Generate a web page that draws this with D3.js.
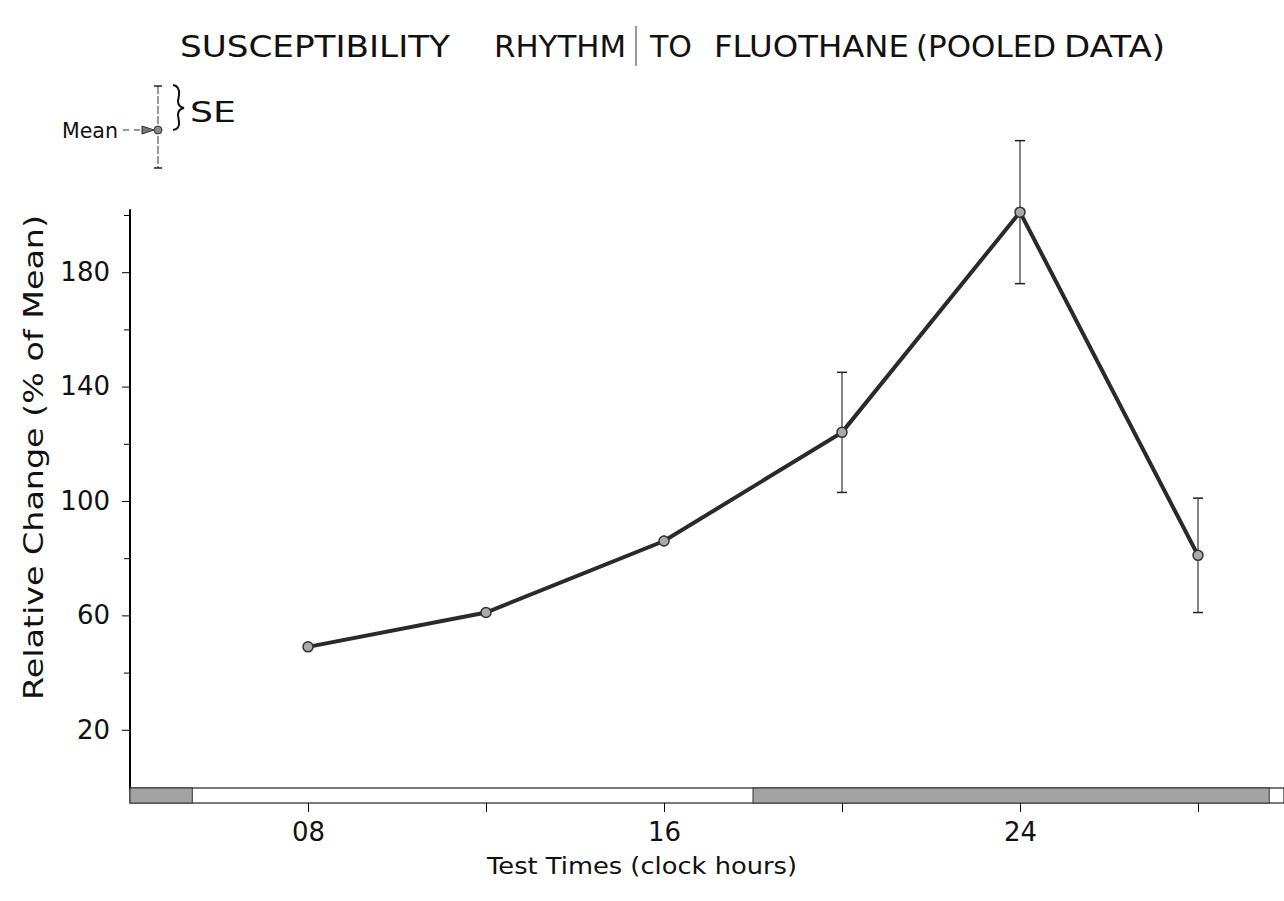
<!DOCTYPE html>
<html>
<head>
<meta charset="utf-8">
<script src="https://cdn.jsdelivr.net/npm/d3@7"></script>
<style>
	body { margin: 0; background: #fff; }
	svg text { font-family: "DejaVu Sans", sans-serif; fill: #111; }
</style>
</head>
<body>
<figure id="chart" style="margin:0"></figure>
<script>
// data
const hours = [8, 12, 16, 20, 24, 28];
const means = [49, 61, 86, 124, 201, 81];
const ses = [0.8, 1.5, 2, 21, 25, 20];

const majorTicks = [20, 60, 100, 140, 180];
const minorTicks = [40, 80, 120, 160, 200];
const hourTicks = [8, 12, 16, 20, 24, 28];
const hourLabels = ["08", "", "16", "", "24", ""];

// dark periods of the light/dark bar (clock hours)
const darkStart = [4, 18];
const darkEnd = [5.4, 29.6];

// title words, with where they sit
const titleWords = ["SUSCEPTIBILITY", "RHYTHM", "TO", "FLUOTHANE", "(POOLED", "DATA)"];
const titleX = [[180, 450], [494, 626], [650, 692], [714, 909], [916, 1056], [1064, 1165]];

let dimensions = {
	width: 1284,
	height: 901,
};

var svg = d3.select("figure#chart")
	.append("svg")
	.attr("width", dimensions.width)
	.attr("height", dimensions.height);

var xScale = d3.scaleLinear()
	.domain([4, 30])
	.range([130, 1287]);

var yScale = d3.scaleLinear()
	.domain([0, 200])
	.range([787, 215]);

// title
svg.selectAll("text.title")
	.data(titleWords)
	.enter()
	.append("text")
	.attr("class", "title")
	.attr("x", (d, i) => titleX[i][0])
	.attr("y", 57)
	.attr("textLength", (d, i) => titleX[i][1] - titleX[i][0])
	.attr("lengthAdjust", "spacingAndGlyphs")
	.style("font-size", "31px")
	.text(d => d);
svg.append("line")
	.attr("x1", 636).attr("x2", 636)
	.attr("y1", 26).attr("y2", 66)
	.attr("stroke", "#333").attr("stroke-width", 1);

// y axis
var yAxis = svg.append("g")
	.attr("transform", "translate(130,0)")
	.call(d3.axisLeft(yScale).tickValues(majorTicks).tickSize(8).tickPadding(12).tickFormat(d3.format("d")));
yAxis.select(".domain").attr("d", `M0,${yScale(202)}V${yScale(-1)}`).attr("stroke-width", 2);
yAxis.selectAll("text").style("font-size", "26px").attr("fill", "#111");

svg.append("g")
	.attr("transform", "translate(130,0)")
	.call(d3.axisLeft(yScale).tickValues(minorTicks).tickSize(6).tickFormat(""))
	.select(".domain").remove();

svg.append("text")
	.attr("transform", `translate(43,700) rotate(-90)`)
	.attr("textLength", 485)
	.attr("lengthAdjust", "spacingAndGlyphs")
	.style("font-size", "26px")
	.text("Relative  Change (% of Mean)");

// light/dark bar along the bottom
var barTop = 788, barH = 15;
svg.append("rect")
	.attr("x", 130).attr("y", barTop)
	.attr("width", 1154).attr("height", barH)
	.attr("fill", "#fff")
	.attr("stroke", "#222").attr("stroke-width", 1.2);
svg.selectAll("rect.dark")
	.data(darkStart)
	.enter()
	.append("rect")
	.attr("class", "dark")
	.attr("x", d => xScale(d))
	.attr("y", barTop)
	.attr("width", (d, i) => xScale(darkEnd[i]) - xScale(d))
	.attr("height", barH)
	.attr("fill", "#a3a3a3")
	.attr("stroke", "#333").attr("stroke-width", 1);

var xAxis = svg.append("g")
	.attr("transform", `translate(0,${barTop + barH})`)
	.call(d3.axisBottom(xScale).tickValues(hourTicks).tickSize(9).tickPadding(11)
		.tickFormat((d, i) => hourLabels[i]));
xAxis.select(".domain").remove();
xAxis.selectAll("text").style("font-size", "26px").attr("fill", "#111");

svg.append("text")
	.attr("x", 487)
	.attr("y", 874)
	.attr("textLength", 310)
	.attr("lengthAdjust", "spacingAndGlyphs")
	.style("font-size", "23px")
	.text("Test Times (clock hours)");

// error bars
var errs = svg.append("g");
hours.forEach((h, i) => {
	var x = xScale(h);
	var y0 = yScale(means[i] - ses[i]);
	var y1 = yScale(means[i] + ses[i]);
	errs.append("line").attr("x1", x).attr("x2", x).attr("y1", y0).attr("y2", y1)
		.attr("stroke", "#333").attr("stroke-width", 1.2);
	if (ses[i] > 5) {
		[y0, y1].forEach(y => {
			errs.append("line").attr("x1", x - 5).attr("x2", x + 5).attr("y1", y).attr("y2", y)
				.attr("stroke", "#222").attr("stroke-width", 1.5);
		});
	}
});

// the line
var points = hours.map((h, i) => [h, means[i]]);
svg.append("path")
	.datum(points)
	.attr("fill", "none")
	.attr("stroke", "#2a2a2a")
	.attr("stroke-width", 4)
	.attr("d", d3.line().x(d => xScale(d[0])).y(d => yScale(d[1])));

svg.selectAll("circle.pt")
	.data(points)
	.enter()
	.append("circle")
	.attr("class", "pt")
	.attr("cx", d => xScale(d[0]))
	.attr("cy", d => yScale(d[1]))
	.attr("r", 5)
	.attr("fill", "#aaa")
	.attr("stroke", "#333")
	.attr("stroke-width", 1.5);

// key: Mean and SE
var key = svg.append("g");
key.append("text").attr("x", 62).attr("y", 138)
	.attr("textLength", 56).attr("lengthAdjust", "spacingAndGlyphs")
	.style("font-size", "22px").text("Mean");
key.append("line").attr("x1", 123).attr("x2", 146).attr("y1", 130).attr("y2", 130)
	.attr("stroke", "#333").attr("stroke-width", 1.2).attr("stroke-dasharray", "6,5");
key.append("path").attr("d", "M142,126L154,130L142,134Z").attr("fill", "#777").attr("stroke", "#333");
key.append("line").attr("x1", 158).attr("x2", 158).attr("y1", 86).attr("y2", 168)
	.attr("stroke", "#333").attr("stroke-width", 1).attr("stroke-dasharray", "8,2");
[86, 168].forEach(y => {
	key.append("line").attr("x1", 154).attr("x2", 162).attr("y1", y).attr("y2", y)
		.attr("stroke", "#222").attr("stroke-width", 1.5);
});
key.append("circle").attr("cx", 158).attr("cy", 130).attr("r", 4)
	.attr("fill", "#888").attr("stroke", "#333");
key.append("path")
	.attr("d", "M173,85 Q180,86 179,95 L178,101 Q178,107 184,108 Q178,109 178,115 L179,122 Q180,129 173,130")
	.attr("fill", "none").attr("stroke", "#111").attr("stroke-width", 2);
key.append("text").attr("x", 190).attr("y", 122)
	.attr("textLength", 46).attr("lengthAdjust", "spacingAndGlyphs")
	.style("font-size", "28px").text("SE");
</script>
</body>
</html>
